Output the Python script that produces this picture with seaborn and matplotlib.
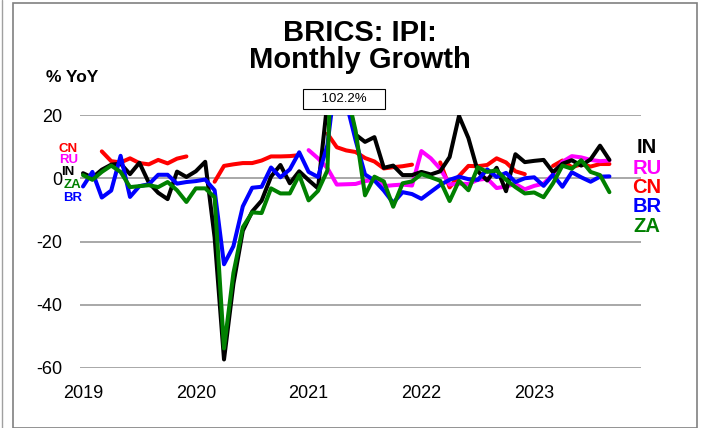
import numpy as np
import pandas as pd
import seaborn as sns
import matplotlib.pyplot as plt
from matplotlib.patches import Rectangle
from matplotlib.lines import Line2D

nan = np.nan

# monthly index: 0 = Jan 2019 ... 56 = Sep 2023
months = list(range(57))
year_ticks = [0, 12, 24, 36, 48]
year_labels = ['2019', '2020', '2021', '2022', '2023']

india = [1.6, 0.2, 2.7, 4.3, 4.6, 1.3, 4.9, -1.4, -4.6, -6.6, 2.1, 0.4,
         2.2, 5.2, -18.7, -57.3, -33.4, -16.6, -10.5, -7.1, 0.5, 4.2, -1.6, 2.2,
         -0.6, -3.2, 24.2, 102.2, 27.6, 13.8, 11.5, 13.0, 3.3, 4.0, 1.0, 1.0,
         2.0, 1.2, 2.2, 6.7, 19.7, 12.7, 2.2, -0.7, 3.3, -4.1, 7.6, 5.1,
         5.5, 5.8, 1.9, 4.6, 5.7, 4.0, 6.0, 10.3, 5.8]
russia = [nan] * 24 + [
         8.9, 6.3, 3.2, -2.0, -1.9, -1.8, -0.9, -0.5, -2.5, -2.2, -2.0, -2.3,
         8.6, 6.3, 3.0, -2.0, -1.7, -1.8, -0.5, -0.1, -3.1, -2.6, -1.8, -3.5,
         -2.4, -1.7, 1.2, 5.2, 7.0, 6.6, 5.8, 5.4, 5.6]
china = [nan, nan, 8.5, 5.4, 5.0, 6.3, 4.8, 4.4, 5.8, 4.7, 6.2, 6.9,
         nan, nan, -1.1, 3.9, 4.4, 4.8, 4.8, 5.6, 6.9, 6.9, 7.0, 7.3,
         nan, nan, 14.1, 9.8, 8.8, 8.3, 6.4, 5.3, 3.1, 3.5, 3.8, 4.3,
         nan, nan, 5.0, -2.9, 0.7, 3.9, 3.8, 4.2, 6.3, 5.0, 2.2, 1.3,
         nan, nan, 3.9, 5.6, 3.5, 4.4, 3.7, 4.5, 4.5]
brazil = [-2.6, 2.0, -6.1, -3.9, 7.1, -5.9, -2.5, -1.9, 1.1, 1.1, -1.7, -1.2,
          -0.9, -0.4, -3.8, -27.2, -21.5, -8.9, -3.0, -2.7, 3.4, 0.3, 2.8, 8.2,
          2.0, 0.4, 10.5, 34.7, 24.0, 12.0, 1.2, -0.7, -3.9, -7.8, -4.4, -5.0,
          -6.5, -4.3, -2.1, -0.5, 0.5, -0.3, -0.5, 2.8, 0.4, 1.7, -1.2, 0.0,
          0.3, -2.4, 1.1, -2.7, 1.9, 0.3, -1.1, 0.5, 0.6]
safrica = [1.0, -0.5, 2.0, 4.0, 2.0, -2.8, -2.5, -2.2, -2.8, -1.2, -3.8, -7.5,
           -3.2, -3.2, -6.0, -53.8, -30.0, -15.5, -10.8, -11.0, -3.2, -4.8, -4.8, 1.0,
           -7.0, -4.0, 2.5, 88.0, 28.0, 15.0, -5.4, 0.5, -1.0, -9.0, -1.6, -1.0,
           1.3, 0.3, -0.8, -7.2, -0.8, -3.8, 3.5, 2.0, 2.5, -0.5, -2.8, -4.8,
           -4.5, -6.0, -1.6, 4.0, 3.0, 5.7, 2.0, 1.0, -4.4]

series = {'CN': china, 'RU': russia, 'IN': india, 'BR': brazil, 'ZA': safrica}
colors = {'IN': '#000000', 'RU': '#FF00FF', 'CN': '#FF0000', 'BR': '#0000FF', 'ZA': '#008000'}

frames = []
for name, vals in series.items():
    d = pd.DataFrame({'month': months, 'value': vals, 'country': name})
    d['seg'] = d['value'].isna().cumsum()
    frames.append(d.dropna())
df = pd.concat(frames, ignore_index=True)

sns.set_style('white')
plt.rcParams['font.family'] = ['Liberation Sans', 'DejaVu Sans']
plt.rcParams['text.color'] = 'black'
plt.rcParams['axes.unicode_minus'] = False

W, H = 707, 428
fig = plt.figure(figsize=(W / 100, H / 100), dpi=100)
fx = lambda px: px / W
fy = lambda py: 1 - py / H

ax = fig.add_axes([fx(80), fy(368), (641 - 80) / W, (368 - 115) / H])

for name in ['CN', 'RU', 'IN', 'BR', 'ZA']:
    sns.lineplot(data=df[df['country'] == name], x='month', y='value',
                 units='seg', estimator=None, color=colors[name],
                 linewidth=2.9, ax=ax, legend=False, zorder=3)

ax.set_xlim(-0.32, 59.36)
ax.set_ylim(-60, 20)
ax.set_yticks([-60, -40, -20, 0, 20])
ax.set_xticks(year_ticks)
ax.set_xticklabels(year_labels)
ax.tick_params(axis='both', length=0, labelsize=13, colors='black')
ax.tick_params(axis='y', pad=13)
ax.tick_params(axis='x', pad=12)
ax.set_xlabel('')
ax.set_ylabel('')
for s in ax.spines.values():
    s.set_visible(False)
ax.yaxis.grid(True, color='#9a9a9a', linewidth=1.2, zorder=1)
ax.xaxis.grid(False)
ax.set_facecolor('none')

# label for the off-scale spike
ax.text(27.8, 25.0, '    102.2%    ', ha='center', va='center', fontsize=9.5,
        clip_on=False, zorder=5,
        bbox=dict(boxstyle='square,pad=0.3', fc='white', ec='black', lw=0.8))

# titles
fig.text(fx(360), fy(33), 'BRICS: IPI:', ha='center', va='center',
         fontsize=21, fontweight='bold', color='black')
fig.text(fx(360), fy(60), 'Monthly Growth', ha='center', va='center',
         fontsize=21, fontweight='bold', color='black')
fig.text(fx(72), fy(77), '% YoY', ha='center', va='center',
         fontsize=12.5, fontweight='bold', color='black')

# right-hand labels
for name, py in [('IN', 148), ('RU', 168), ('CN', 188), ('BR', 207), ('ZA', 227)]:
    fig.text(fx(647), fy(py), name, ha='center', va='center',
             fontsize=14.5, fontweight='bold', color=colors[name])

# left-hand small labels
for name, px, py in [('CN', 68, 149), ('RU', 69, 160), ('IN', 68, 172),
                     ('ZA', 72, 185), ('BR', 73, 198)]:
    fig.text(fx(px), fy(py), name, ha='center', va='center',
             fontsize=9.5, fontweight='bold', color=colors[name])

# chart border
fig.patches.append(Rectangle((fx(13), 0), fx(697) - fx(13), fy(3),
                             transform=fig.transFigure, fill=False,
                             ec='#808080', lw=1.2))
fig.lines.append(Line2D([fx(2), fx(2)], [0, 1], transform=fig.transFigure,
                        color='#a0a0a0', lw=1.0))

fig.savefig('out.png', dpi=100)
